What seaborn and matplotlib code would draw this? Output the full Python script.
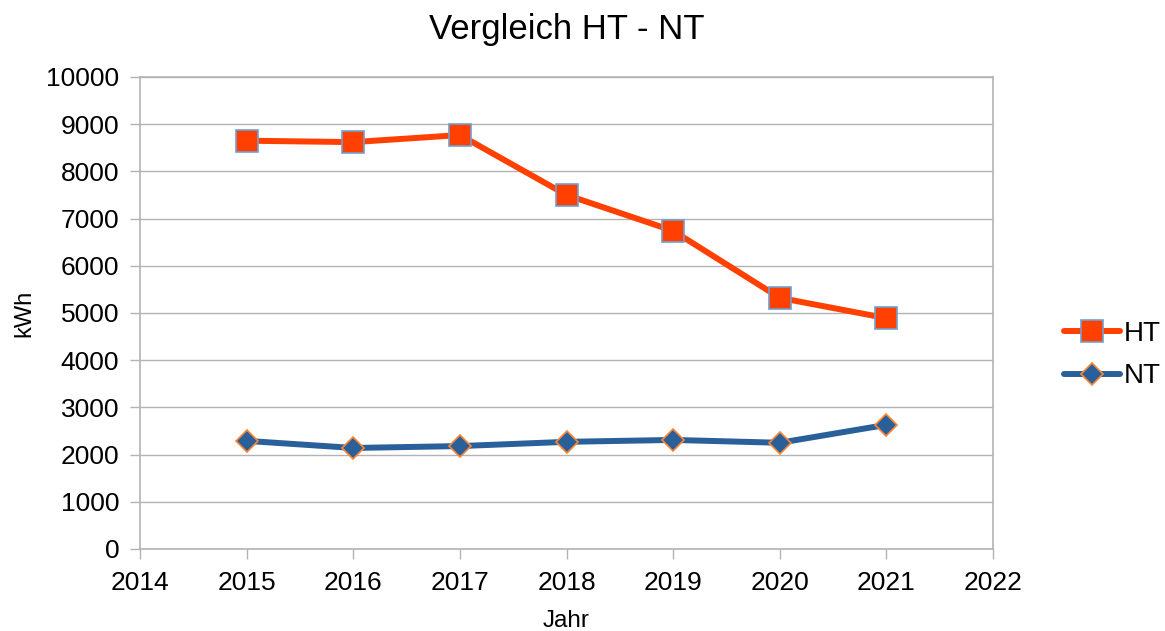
import pandas as pd
import seaborn as sns
import matplotlib.pyplot as plt

# Data
years = [2015, 2016, 2017, 2018, 2019, 2020, 2021]
ht_values = [8650, 8620, 8770, 7500, 6740, 5320, 4890]
nt_values = [2290, 2140, 2180, 2270, 2310, 2250, 2630]

df = pd.DataFrame({'Jahr': years, 'HT': ht_values, 'NT': nt_values})

sns.set_theme(style='white')
plt.rcParams['font.family'] = ['Liberation Sans', 'DejaVu Sans']
plt.rcParams['text.color'] = 'black'
plt.rcParams['axes.labelcolor'] = 'black'

fig = plt.figure(figsize=(11.65, 6.31), dpi=100)
ax = fig.add_axes([0.1202, 0.13, 0.7322, 0.748])

sns.lineplot(data=df, x='Jahr', y='HT', ax=ax, color='#ff4000', linewidth=4.3,
             marker='s', markersize=16, markeredgecolor='#729fcf',
             markeredgewidth=1.2, label='HT')
sns.lineplot(data=df, x='Jahr', y='NT', ax=ax, color='#2a6099', linewidth=4.3,
             marker='D', markersize=11.5, markeredgecolor='#ff8533',
             markeredgewidth=1.2, label='NT')

ax.set_xlim(2014, 2022)
ax.set_ylim(0, 10000)
ax.set_xticks(range(2014, 2023))
ax.set_yticks(range(0, 10001, 1000))
ax.grid(axis='y', color='#b3b3b3', linewidth=1)
ax.set_axisbelow(True)
for s in ax.spines.values():
    s.set_color('#b3b3b3')
    s.set_linewidth(1.2)
ax.tick_params(axis='both', labelsize=19, colors='#b3b3b3', labelcolor='black',
               length=7, width=1, direction='out', bottom=True, left=True)
ax.tick_params(axis='x', pad=9)
ax.tick_params(axis='y', pad=8)

ax.set_xlabel('Jahr', fontsize=17.5, labelpad=11)
ax.set_ylabel('kWh', fontsize=17, labelpad=8)
fig.suptitle('Vergleich HT - NT', fontsize=25, x=0.4865, y=0.98)

leg = ax.legend(loc='center left', bbox_to_anchor=(1.054, 0.411), frameon=False,
                fontsize=20, handlelength=2.0, handletextpad=0.15, labelspacing=0.6)

fig.savefig('out.png', dpi=100)
